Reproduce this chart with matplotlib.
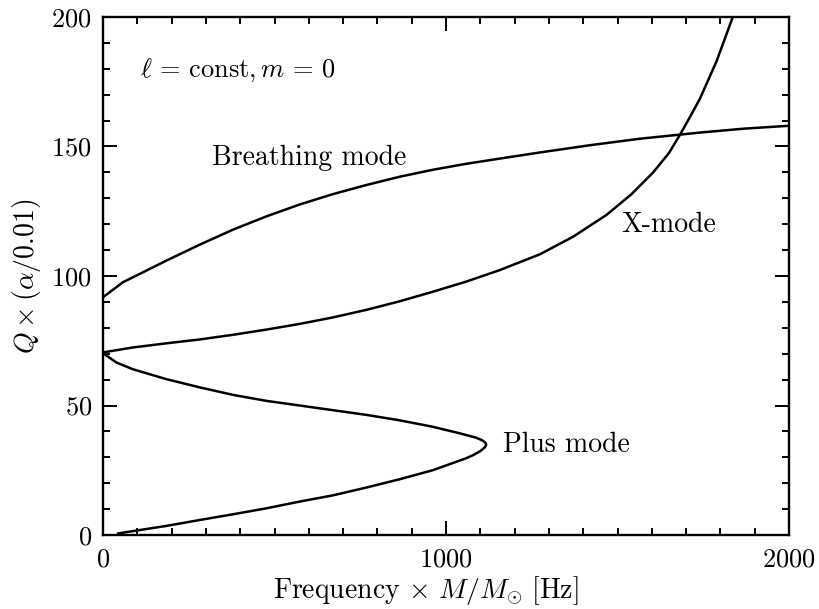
import numpy as np
import matplotlib
matplotlib.use("Agg")
import matplotlib.pyplot as plt
from matplotlib.ticker import MultipleLocator

plt.rcParams["font.family"] = "serif"
plt.rcParams["font.serif"] = ["cmr10"]
plt.rcParams["mathtext.fontset"] = "cm"
plt.rcParams["axes.formatter.use_mathtext"] = True

# breathing mode branch
breath_f = [0, 58, 107, 184, 282, 379, 476, 573, 670, 767, 864, 961, 1058, 1155,
            1274, 1420, 1565, 1750, 1870, 2000]
breath_q = [91.8, 97.6, 100.8, 105.9, 112.1, 117.9, 123.0, 127.6, 131.6, 135.1,
            138.3, 141.0, 143.3, 145.3, 147.7, 150.5, 153.0, 155.5, 156.9, 158.0]

# X-mode branch
xmode_f = [0, 87, 184, 282, 379, 476, 573, 670, 767, 864, 961, 1058, 1155, 1274,
           1371, 1468, 1540, 1604, 1650, 1682, 1715, 1740, 1789, 1836]
xmode_q = [70.5, 72.4, 74.0, 75.5, 77.3, 79.3, 81.5, 84.0, 86.9, 90.2, 93.9, 97.8,
           102.2, 108.4, 115.2, 123.6, 131.5, 140.0, 147.5, 154.5, 162.3, 168.4, 183.0, 200.0]

# plus mode branch (turns back at ~1115 Hz)
plus_f = [0, 39, 87, 184, 282, 379, 476, 573, 670, 767, 864, 961, 1039, 1087, 1105,
          1115, 1117, 1113, 1100, 1080, 1058, 961, 864, 767, 670, 573, 476, 379, 282,
          184, 87, 44]
plus_q = [70.2, 66.6, 64.0, 60.2, 57.0, 54.1, 51.8, 50.0, 48.2, 46.4, 44.3, 41.8,
          39.3, 37.6, 36.6, 35.6, 34.8, 33.8, 32.4, 30.9, 29.6, 25.0, 21.5, 18.3,
          15.3, 12.9, 10.3, 8.0, 5.8, 3.5, 1.5, 0.6]

fig = plt.figure(figsize=(8.19, 6.09), dpi=100)
ax = fig.add_axes([0.1258, 0.1215, 0.8376, 0.8506])

lw = 1.8
ax.plot(breath_f, breath_q, color="black", lw=lw, solid_joinstyle="round")
ax.plot(xmode_f, xmode_q, color="black", lw=lw, solid_joinstyle="round")
ax.plot(plus_f, plus_q, color="black", lw=lw, solid_joinstyle="round")

fs = 20
ax.text(108, 179.5, r"$\ell\,=\,\mathrm{const}, m\,=\,0$", fontsize=19, va="center", ha="left")
ax.text(317, 145.6, "Breathing mode", fontsize=fs, va="center", ha="left")
ax.text(1512, 119.7, "X-mode", fontsize=fs, va="center", ha="left")
ax.text(1166, 34.7, "Plus mode", fontsize=fs, va="center", ha="left")

ax.set_xlim(0, 2000)
ax.set_ylim(0, 200)
ax.xaxis.set_major_locator(MultipleLocator(1000))
ax.xaxis.set_minor_locator(MultipleLocator(100))
ax.yaxis.set_major_locator(MultipleLocator(50))
ax.yaxis.set_minor_locator(MultipleLocator(10))
ax.tick_params(which="both", direction="in", top=True, right=True, labelsize=19)
ax.tick_params(which="major", length=10, width=1.4)
ax.tick_params(which="minor", length=5, width=1.4)
ax.tick_params(axis="x", which="major", pad=9)
ax.tick_params(axis="y", which="major", pad=8)
for s in ax.spines.values():
    s.set_linewidth(1.7)

ax.set_xlabel(r"$\mathrm{Frequency}\,\times\,M/M_{\odot}\ [\mathrm{Hz}]$", fontsize=fs, labelpad=2)
ax.xaxis.set_label_coords(0.47, -0.075)
ax.set_ylabel(r"$Q\times(\alpha/0.01)$", fontsize=fs, labelpad=6)

fig.savefig("out.png", dpi=100)
